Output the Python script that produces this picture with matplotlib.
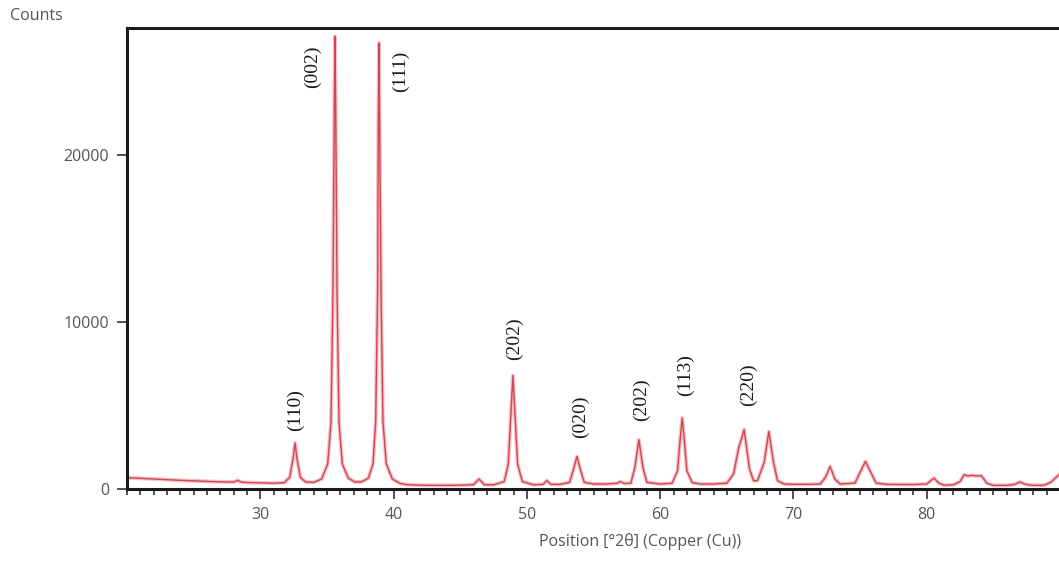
import matplotlib
matplotlib.use("Agg")
import matplotlib.pyplot as plt
from matplotlib.ticker import MultipleLocator

# Diffraction profile (position in deg 2theta, counts)
two_theta = [20.0, 21.0, 22.0, 23.0, 24.0, 25.0, 26.0, 27.0, 28.0, 28.3, 28.6, 29.0, 30.0, 31.0,
             31.8, 32.2, 32.45, 32.6, 32.75, 33.0, 33.4, 34.0,
             34.6, 35.05, 35.3, 35.45, 35.55, 35.6, 35.65, 35.75, 35.9, 36.15, 36.6,
             37.1, 37.6, 38.1, 38.45, 38.65, 38.8, 38.85, 38.9, 38.95, 39.05, 39.2, 39.45, 39.9,
             40.5, 41.0, 42.0, 43.0, 44.0, 45.0, 46.0, 46.4, 46.8, 47.5,
             48.3, 48.6, 48.8, 48.95, 49.1, 49.3, 49.65, 50.5, 51.2,
             51.5, 51.8, 52.5, 53.2, 53.5, 53.75, 54.0, 54.3, 55.0, 56.0, 56.8, 57.0, 57.3,
             57.8, 58.1, 58.4, 58.7, 59.0, 60.0, 60.9, 61.3, 61.5, 61.65, 61.8, 62.0, 62.4, 63.0, 64.0,
             65.0, 65.5, 65.9, 66.3, 66.7, 67.0, 67.3, 67.8, 68.15, 68.5, 68.8, 69.3, 70.0,
             71.0, 72.0, 72.4, 72.75, 73.1, 73.5, 74.6, 75.0, 75.4, 75.8, 76.2, 77.0, 78.0,
             79.0, 80.0, 80.3, 80.55, 80.9, 81.3, 82.0, 82.5, 82.8, 83.1, 83.4, 83.7, 84.1,
             84.5, 85.0, 86.0, 86.6, 87.0, 87.4, 88.0, 88.8, 89.3, 89.7, 90.0]
counts = [680, 640, 600, 560, 520, 490, 460, 430, 420, 520, 410, 390, 370, 350,
          380, 700, 1800, 2750, 1800, 700, 420, 400,
          600, 1500, 4000, 12000, 23000, 27100, 23000, 12000, 4000, 1500, 650,
          420, 430, 650, 1500, 4000, 12000, 22000, 26700, 22000, 12000, 4000, 1500, 600,
          330, 260, 230, 220, 220, 230, 260, 600, 260, 250,
          450, 1500, 4500, 6800, 4500, 1500, 450, 250, 280,
          500, 280, 280, 400, 1200, 1950, 1200, 400, 300, 300, 350, 450, 330,
          350, 1300, 2950, 1300, 400, 300, 350, 1100, 3000, 4250, 3000, 1100, 380, 300, 300,
          350, 900, 2500, 3550, 1200, 500, 500, 1600, 3450, 1600, 500, 300, 280,
          280, 300, 700, 1350, 600, 300, 350, 1000, 1650, 1000, 350, 280, 270,
          270, 300, 500, 650, 350, 230, 250, 450, 850, 780, 820, 780, 800,
          350, 220, 220, 280, 420, 280, 220, 230, 400, 700, 900]

# Miller index labels: text, x position, y centre of the rotated label
hkl_labels = ["(110)", "(002)", "(111)", "(202)", "(020)", "(202)", "(113)", "(220)"]
hkl_x = [32.6, 33.9, 40.5, 49.1, 54.0, 58.6, 61.9, 66.6]
hkl_y = [4750, 25300, 25000, 9000, 4300, 5350, 6800, 6250]

fig = plt.figure(figsize=(10.59, 5.61), dpi=100)
ax = fig.add_axes([0.12, 0.1283, 0.881, 0.8217])

ax.plot(two_theta, counts, color="#f7c0c4", lw=2.8, solid_joinstyle="round")
ax.plot(two_theta, counts, color="#cf4652", lw=1.0, solid_joinstyle="round")

for lab, x, y in zip(hkl_labels, hkl_x, hkl_y):
    ax.text(x, y, lab, rotation=90, ha="center", va="center",
            family="Liberation Serif", fontsize=14, color="#1a1a1a")

ax.set_xlim(20, 90)
ax.set_ylim(0, 27600)
ax.set_xticks([30, 40, 50, 60, 70, 80])
ax.xaxis.set_minor_locator(MultipleLocator(1))
ax.set_yticks([0, 10000, 20000])

for side in ["left", "top", "bottom"]:
    ax.spines[side].set_linewidth(2.2)
    ax.spines[side].set_color("#1a1a1a")
ax.spines["right"].set_visible(False)

ax.tick_params(axis="both", which="major", direction="out", length=7, width=1.2,
               color="#333333", labelcolor="#555555", labelsize=11.5, pad=6)
ax.tick_params(axis="x", which="minor", direction="out", length=4, width=1.2, color="#333333")
for lbl in ax.get_xticklabels() + ax.get_yticklabels():
    lbl.set_family("Open Sans")

fig.text(10 / 1059, 1 - 16 / 561, "Counts", ha="left", va="center",
         family="Open Sans", fontsize=11.5, color="#555555")
fig.text(640 / 1059, 1 - 541 / 561, "Position [°2θ] (Copper (Cu))", ha="center", va="center",
         family="Open Sans", fontsize=11.5, color="#555555")

fig.savefig("out.png", dpi=100)
